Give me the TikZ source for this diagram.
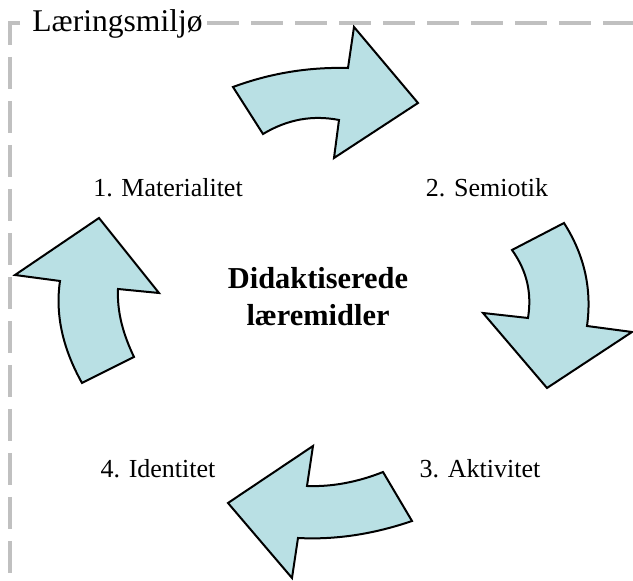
\documentclass[tikz,border=0pt]{standalone}
\usepackage{fontspec}
\setmainfont{Liberation Serif}
\definecolor{pilfarve}{RGB}{185,224,228}
\definecolor{rammefarve}{RGB}{192,192,192}

\begin{document}
\begin{tikzpicture}[x=0.5pt,y=-0.5pt,
	pil/.style={draw=black,line width=1pt,fill=pilfarve},
	ramme/.style={draw=rammefarve,line width=2pt,dash pattern=on 16pt off 6pt},
	trin/.style={font=\fontsize{13}{15.6}\selectfont,inner sep=0pt,anchor=base}]
	\useasboundingbox (0,0) rectangle (633,581);
	
	\node[anchor=base west,inner sep=0pt,font=\fontsize{15.8}{19}\selectfont] (miljo) at (32,32) {Læringsmiljø};
	\draw[ramme] (20,23) -- (10,23) -- (10,600);
	\draw[ramme] (207,23) -- (650,23);
	
	\draw[pil] (233,87) .. controls (271,73) and (309,67) .. (348,68) -- (354,27) -- (418,103) -- (334,158) -- (339,120)
		.. controls (313,115) and (288,119) .. (263,134) -- cycle;
	\draw[pil] (564,223) .. controls (585,256) and (592,290) .. (587,326) -- (632,332) -- (547,388) -- (483,313) -- (528,318)
		.. controls (532,293) and (527,271) .. (512,250) -- cycle;
	\draw[pil] (412,521) .. controls (374,534) and (336,540) .. (298,538) -- (292,578) -- (228,503) -- (313,446) -- (307,486)
		.. controls (332,487) and (358,482) .. (383,472) -- cycle;
	\draw[pil] (82,383) .. controls (63,349) and (55,315) .. (60,281) -- (15,275) -- (99,218) -- (159,293) -- (118,289)
		.. controls (117,312) and (123,334) .. (134,357) -- cycle;
	
	\node[trin] (mat) at (168,197) {1. Materialitet};
	\node[trin] (sem) at (487,197) {2. Semiotik};
	\node[trin] (akt) at (480,478) {3. Aktivitet};
	\node[trin] (ide) at (158,478) {4. Identitet};
	\node[align=center,font=\bfseries\fontsize{15.2}{18.5}\selectfont] (did) at (318,297) {Didaktiserede\\læremidler};
\end{tikzpicture}
\end{document}
